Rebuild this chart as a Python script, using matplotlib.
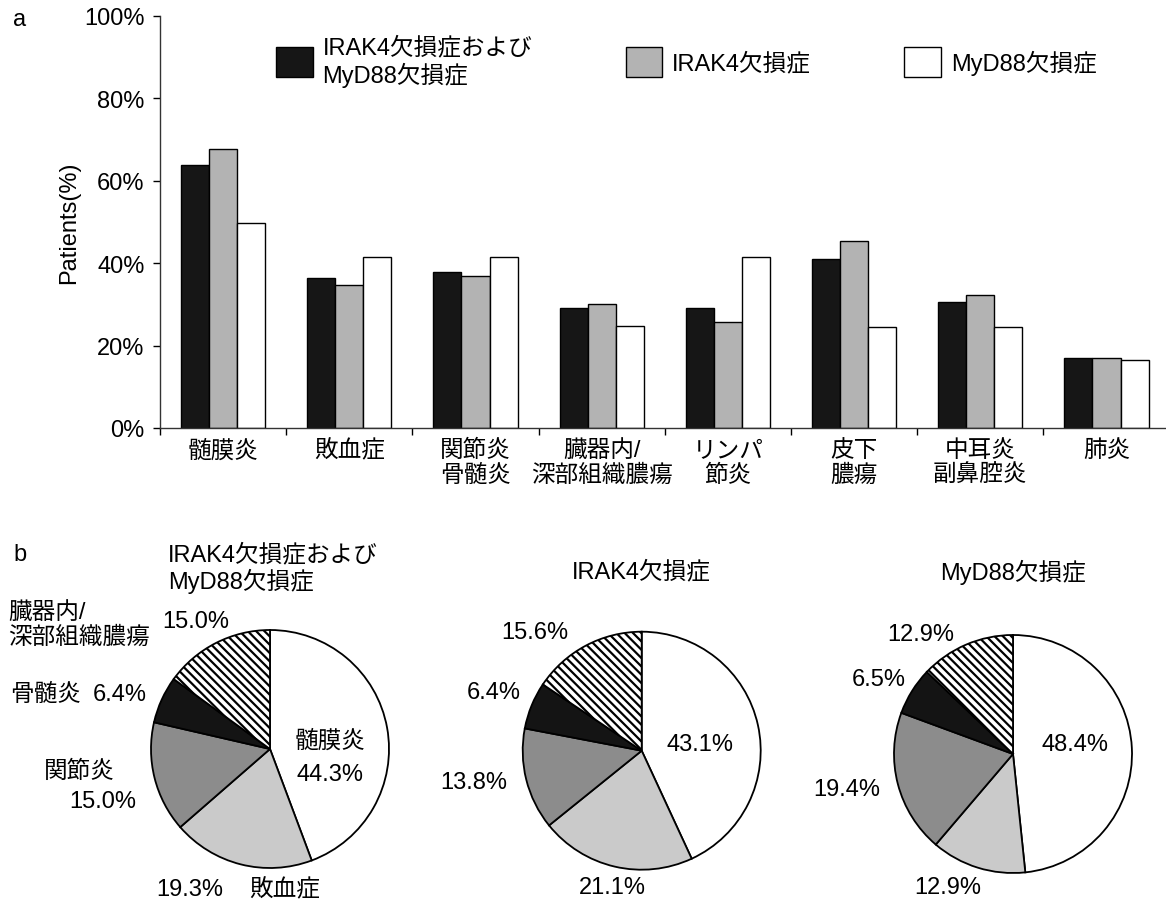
import matplotlib
matplotlib.use("Agg")
import matplotlib.pyplot as plt
import numpy as np
from matplotlib.patches import Patch

plt.rcParams['font.family'] = ['Liberation Sans', 'Noto Sans CJK JP']
plt.rcParams['hatch.linewidth'] = 1.6

# ---------------- data ----------------
categories = ["髄膜炎", "敗血症", "関節炎\n骨髄炎", "臓器内/\n深部組織膿瘍",
              "リンパ\n節炎", "皮下\n膿瘍", "中耳炎\n副鼻腔炎", "肺炎"]
series_names = ["IRAK4欠損症および\nMyD88欠損症", "IRAK4欠損症", "MyD88欠損症"]
both_vals = [63.9, 36.4, 37.8, 29.2, 29.1, 41.1, 30.5, 16.9]
irak4_vals = [67.6, 34.8, 36.9, 30.1, 25.8, 45.4, 32.2, 16.9]
myd88_vals = [49.8, 41.6, 41.5, 24.7, 41.4, 24.6, 24.6, 16.4]
yticks = [0, 20, 40, 60, 80, 100]

pie_categories = ["髄膜炎", "敗血症", "関節炎", "骨髄炎", "臓器内/\n深部組織膿瘍"]
pie_titles = ["IRAK4欠損症および\nMyD88欠損症", "IRAK4欠損症", "MyD88欠損症"]
pie_both = [44.3, 19.3, 15.0, 6.4, 15.0]
pie_irak4 = [43.1, 21.1, 13.8, 6.4, 15.6]
pie_myd88 = [48.4, 12.9, 19.4, 6.5, 12.9]

# ---------------- layout helpers ----------------
W, H = 1166, 903
fig = plt.figure(figsize=(W / 100, H / 100), dpi=100)
FS = 17


def fx(x):
    return x / W


def fy(y):
    return 1 - y / H


def ftext(x, y, s, ha="center", va="center", **kw):
    fig.text(fx(x), fy(y), s, ha=ha, va=va, fontsize=FS, **kw)


# ---------------- bar chart ----------------
left_px, right_px, top_px, bot_px = 160, 160 + 8 * 126.2, 17, 429
ax = fig.add_axes([fx(left_px), fy(bot_px), (right_px - left_px) / W, (bot_px - top_px) / H])

bar_colors = ["#161616", "#b3b3b3", "#ffffff"]
x = np.arange(len(categories))
bw = 0.222
for i, (vals, col, name) in enumerate(zip([both_vals, irak4_vals, myd88_vals], bar_colors, series_names)):
    ax.bar(x + (i - 1) * bw, vals, bw, color=col, edgecolor="black", linewidth=1.0, label=name)

ax.set_xlim(-0.5, len(categories) - 0.5)
ax.set_ylim(0, 100)
ax.set_yticks(yticks)
ax.set_yticklabels([f"{v}%" for v in yticks], fontsize=FS)
ax.set_xticks(x)
ax.set_xticklabels(categories, fontsize=FS, linespacing=1.15)
ax.set_xticks(np.arange(-0.5, len(categories), 1.0), minor=True)
ax.tick_params(axis="x", which="major", length=0, pad=8)
ax.tick_params(axis="x", which="minor", length=5, width=1, direction="out")
ax.tick_params(axis="y", which="major", length=5, width=1, direction="out", pad=6)
for s in ["top", "right"]:
    ax.spines[s].set_visible(False)
for s in ["left", "bottom"]:
    ax.spines[s].set_linewidth(1.0)
    ax.spines[s].set_color("#333333")
ax.set_ylabel("Patients(%)", fontsize=FS)
ax.yaxis.set_label_coords((80 - left_px) / (right_px - left_px), 0.5)

handles = [Patch(facecolor=c, edgecolor="black", linewidth=1.0) for c in bar_colors]
fig.legend(handles, series_names, loc="center left", bbox_to_anchor=(fx(276), fy(62)),
           bbox_transform=fig.transFigure, ncol=3, frameon=False, fontsize=FS,
           handlelength=1.55, handleheight=1.55, handletextpad=0.42,
           columnspacing=3.95, borderpad=0, borderaxespad=0)

ftext(20, 20, "a", ha="center")

# ---------------- pie charts ----------------
pie_colors = ["#ffffff", "#cacaca", "#8c8c8c", "#141414", "#ffffff"]
pie_hatches = [None, None, None, None, "\\\\\\\\"]
centers = [(270, 750), (641.7, 751.7), (1013, 755)]
R = 119
pie_data = [pie_both, pie_irak4, pie_myd88]

for (cx, cy), vals in zip(centers, pie_data):
    pax = fig.add_axes([fx(cx - R), fy(cy + R), 2 * R / W, 2 * R / H])
    wedges, _ = pax.pie(vals, colors=pie_colors, startangle=90, counterclock=False,
                        wedgeprops=dict(edgecolor="black", linewidth=1.3))
    for w, h in zip(wedges, pie_hatches):
        if h:
            w.set_hatch(h)
    pax.set_xlim(-1.0, 1.0)
    pax.set_ylim(-1.0, 1.0)
    pax.set_aspect("auto")
    pax.axis("off")

ftext(20, 555, "b", ha="center")

# titles
ftext(168, 569, pie_titles[0], ha="left", linespacing=1.15)
ftext(641.7, 572, pie_titles[1])
ftext(1013, 572, pie_titles[2])


def pct(v):
    return f"{v:.1f}%"


# pie 1 labels
ftext(8, 625, pie_categories[4], ha="left", linespacing=1.15)
ftext(196, 622, pct(pie_both[4]))
ftext(10, 695, "骨髄炎", ha="left")
ftext(147, 695, pct(pie_both[3]), ha="right")
ftext(79, 772, pie_categories[2])
ftext(103, 802, pct(pie_both[2]))
ftext(330, 742, pie_categories[0])
ftext(330, 775, pct(pie_both[0]))
ftext(190, 890, pct(pie_both[1]))
ftext(285, 890, pie_categories[1])

# pie 2 labels
ftext(535, 633, pct(pie_irak4[4]))
ftext(494, 693, pct(pie_irak4[3]))
ftext(474, 783, pct(pie_irak4[2]))
ftext(700, 745, pct(pie_irak4[0]))
ftext(612, 888, pct(pie_irak4[1]))

# pie 3 labels
ftext(921, 635, pct(pie_myd88[4]))
ftext(879, 680, pct(pie_myd88[3]))
ftext(847, 790, pct(pie_myd88[2]))
ftext(1075, 745, pct(pie_myd88[0]))
ftext(948, 888, pct(pie_myd88[1]))

fig.savefig("out.png", dpi=100, facecolor="white")
